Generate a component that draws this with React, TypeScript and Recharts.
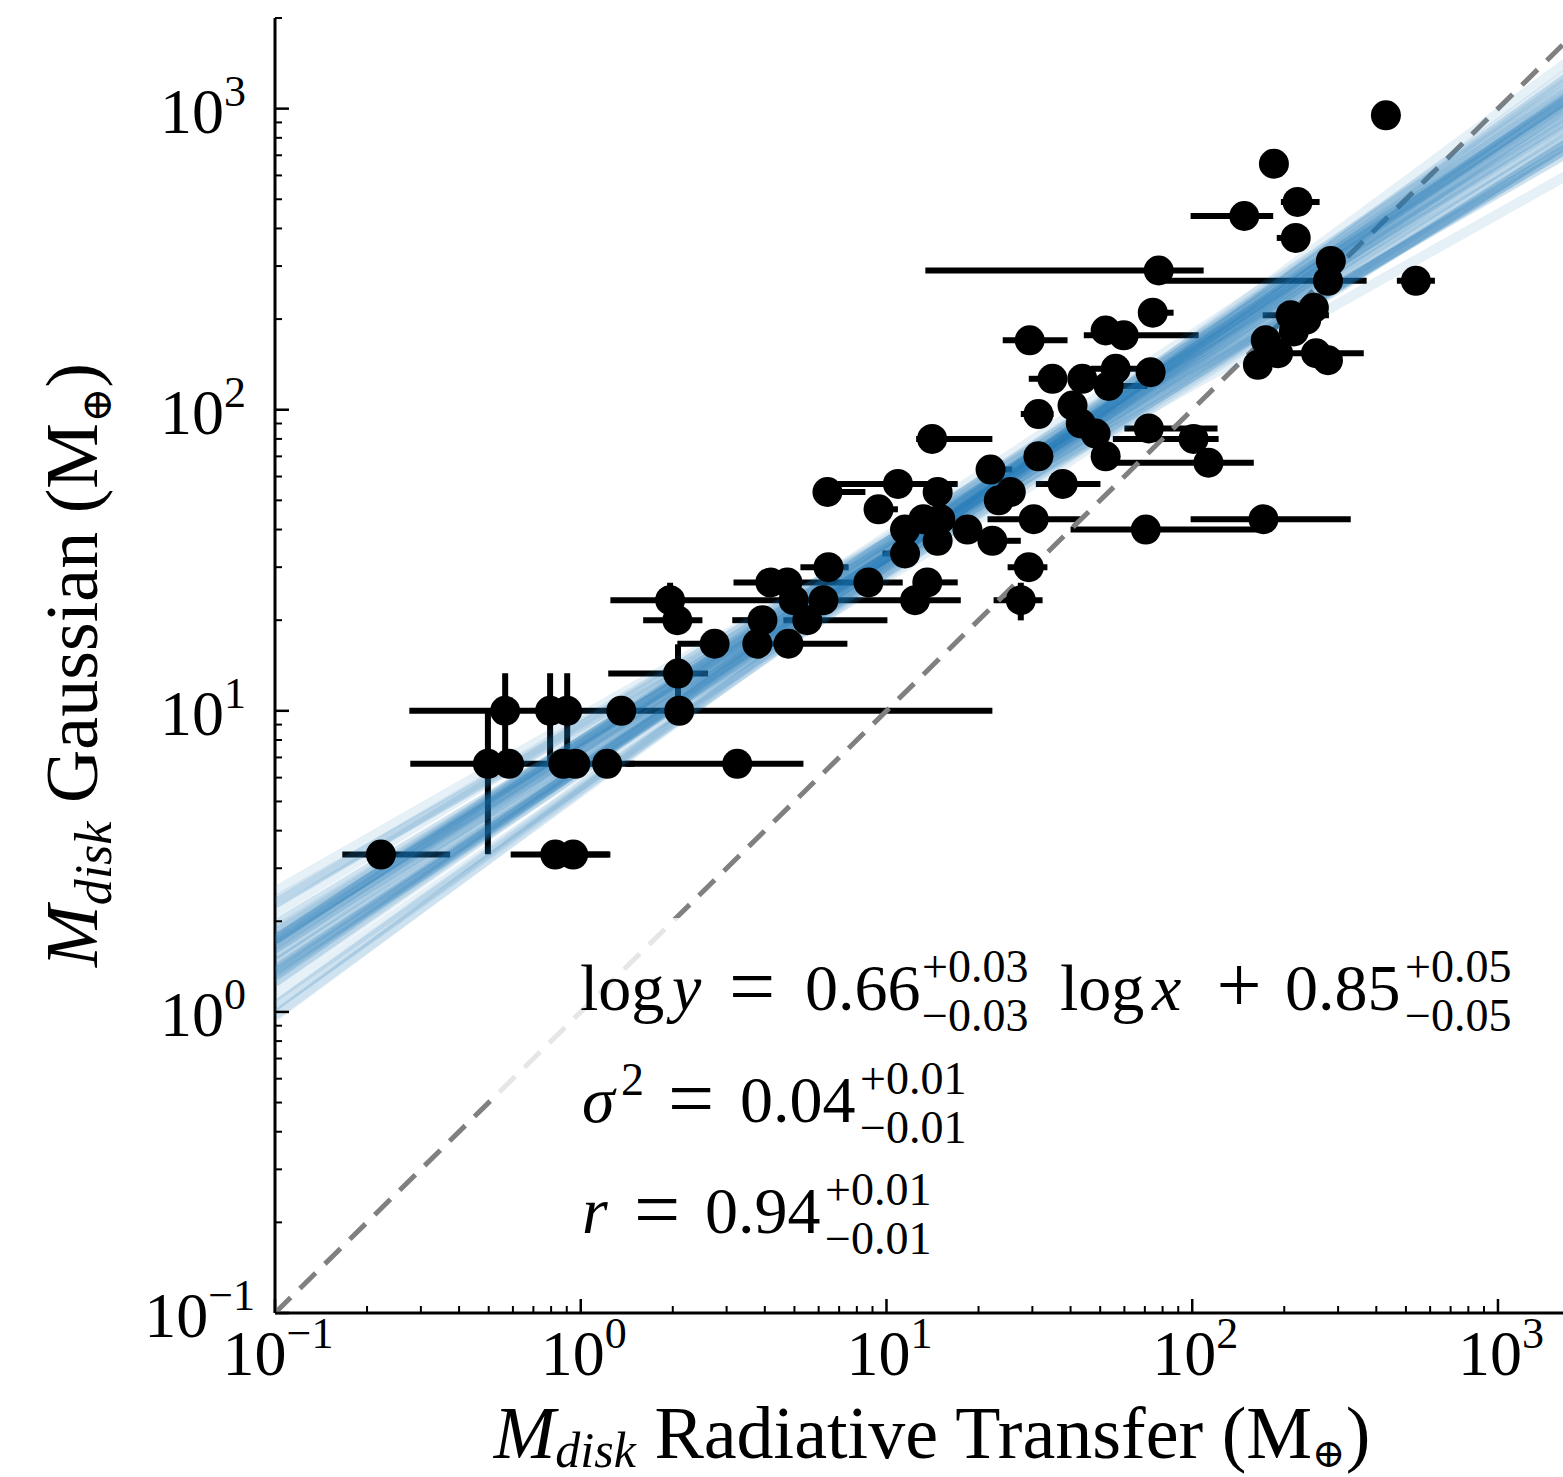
import React from 'react';
import { ScatterChart, Scatter, XAxis, YAxis, ErrorBar } from 'recharts';

const FONT = "'Liberation Serif', 'DejaVu Serif', serif";
const PLOT_LEFT = 275;
const PLOT_BOTTOM = 1313;

// disk masses, radiative transfer fit (x) vs gaussian fit (y), in Earth masses
const radiativeTransfer = [
  0.222, 0.825, 0.945, 0.497, 0.583, 0.877, 0.96, 1.22, 3.25, 0.566,
  0.794, 0.903, 1.357, 2.1, 2.08, 2.74, 3.78, 4.78, 2.07, 3.93,
  5.51, 1.96, 4.97, 6.22, 12.4, 27.5, 4.17, 4.74, 8.73, 13.6,
  6.46, 29.2, 11.5, 14.7, 22.2, 11.5, 18.4, 70.5, 13.2, 15.0,
  30.3, 171, 9.42, 23.3, 6.41, 14.7, 25.5, 10.9, 37.7, 21.9,
  113, 31.4, 52.1, 14.1, 101, 43.2, 72.1, 48.3, 31.4, 40.6,
  53.3, 43.7, 34.9, 56.2, 73.1, 52.1, 59.7, 29.4, 74.3, 77.7,
  430, 185, 221, 148, 218, 284, 278, 539, 210, 250,
  236, 215, 174, 191, 164, 254, 278,
];
const gaussian = [
  3.33, 3.33, 3.33, 6.67, 6.67, 6.67, 6.67, 6.67, 6.67, 10,
  10, 10, 10, 10, 13.3, 16.7, 16.7, 16.7, 20, 20,
  20, 23.3, 23.3, 23.3, 23.3, 23.3, 26.7, 26.7, 26.7, 26.7,
  30, 30, 33.3, 36.7, 36.7, 40, 40, 40, 43.3, 43.3,
  43.3, 43.3, 46.7, 50, 53.3, 53.3, 53.3, 56.7, 56.7, 63.3,
  66.7, 70, 70, 80, 80, 90, 86.7, 83.3, 96.7, 103.3,
  120, 126.7, 126.7, 136.7, 133.3, 183.3, 176.7, 170, 210, 290,
  950, 656, 490, 440, 372, 312, 268, 268, 206, 218,
  199, 182, 170, 154, 141, 154, 146,
];
// lower / upper end of the radiative transfer error bar
const rtLow = [
  0.166, 0.59, 0.75, 0.277, 0.583, 0.877, 0.96, 1.0, 1.4, 0.566,
  0.794, 0.903, 1.357, 0.275, 1.23, 2.07, 3.78, 4.0, 1.6, 3.13,
  4.6, 1.25, 4.97, 6.22, 12.4, 22.4, 3.16, 4.74, 8.73, 13.6,
  5.23, 24.9, 9.7, 14.7, 22.2, 11.5, 18.4, 40, 13.2, 15.0,
  21.4, 98.8, 9.42, 23.3, 6.41, 14.7, 25.5, 6.92, 30.8, 20.5,
  55.3, 31.4, 52.1, 12.5, 55, 43.2, 60, 48.3, 27.5, 40.6,
  53.3, 43.7, 29.2, 46.6, 73.1, 52.1, 44.2, 24.0, 74.3, 13.4,
  430, 185, 195, 98.8, 189, 284, 81.8, 467, 170, 250,
  236, 215, 174, 191, 164, 200, 278,
];
const rtHigh = [
  0.374, 1.25, 1.24, 0.85, 0.583, 0.877, 0.96, 1.5, 5.35, 0.566,
  0.794, 0.903, 1.357, 22.2, 2.61, 2.74, 3.78, 7.45, 2.5, 3.93,
  10.07, 17.5, 4.97, 6.22, 12.4, 32.4, 11.3, 4.74, 8.73, 17.1,
  7.52, 33.6, 11.5, 14.7, 27.5, 11.5, 18.4, 171, 13.2, 15.0,
  43.2, 330, 10.9, 23.3, 8.53, 14.7, 25.5, 17.1, 50.1, 25.8,
  159, 31.4, 52.1, 22.2, 122, 43.2, 121, 48.3, 35.2, 40.6,
  71.4, 43.7, 34.9, 66.4, 73.1, 52.1, 105, 39.1, 86.9, 109,
  430, 185, 261, 184, 218, 284, 372, 622, 280, 250,
  236, 215, 174, 191, 164, 364, 278,
];
// symmetric error on the gaussian mass
const gaussErr = [
  0, 0, 0, 3.33, 0, 0, 0, 0, 0, 3.33,
  3.33, 3.33, 0, 0, 3.33, 0, 0, 0, 0, 0,
  0, 3.33, 0, 0, 0, 3.33, 0, 0, 0, 0,
  0, 0, 0, 0, 0, 0, 0, 0, 0, 0,
  0, 0, 0, 0, 0, 0, 0, 0, 0, 0,
  0, 0, 0, 0, 0, 0, 0, 0, 0, 0,
  0, 0, 0, 0, 0, 0, 0, 0, 0, 0,
  0, 0, 0, 0, 0, 0, 0, 0, 0, 0,
  0, 0, 0, 0, 0, 0, 0,
];

// posterior draws of the linear fit in log space
const fitSlopes = [
  0.66, 0.65, 0.67, 0.64, 0.68, 0.66, 0.63, 0.69, 0.65, 0.67,
  0.62, 0.7, 0.66, 0.64, 0.68, 0.61, 0.71, 0.65, 0.67, 0.63,
  0.69, 0.6, 0.72, 0.66, 0.64, 0.68, 0.59, 0.73, 0.62, 0.7,
  0.66, 0.65, 0.67, 0.58, 0.74, 0.63, 0.69, 0.61, 0.71, 0.57, 0.75,
];
const fitIntercepts = [
  0.85, 0.89, 0.81, 0.9, 0.81, 0.9, 0.85, 0.82, 0.86, 0.86,
  0.87, 0.8, 0.89, 0.82, 0.84, 0.9, 0.8, 0.81, 0.89, 0.88,
  0.81, 0.96, 0.74, 0.87, 0.87, 0.82, 0.95, 0.75, 0.95, 0.75,
  0.9, 0.79, 0.91, 0.98, 0.73, 0.9, 0.81, 0.9, 0.81, 0.94, 0.735,
];

const decades = [0.1, 1, 10, 100, 1000];
const exponents = ['\u22121', '0', '1', '2', '3'];
const steps = [1, 2, 3, 4, 5, 6, 7, 8, 9];
const X_DOMAIN = [0.1, 2000];
const Y_DOMAIN = [0.1, 2000];

const logTicks = decades
  .flatMap((d) => steps.map((s) => +(d * s).toPrecision(6)))
  .filter((v) => v <= 2000);

const points = radiativeTransfer.map((x, i) => ({
  x,
  y: gaussian[i],
  ex: [x - rtLow[i], rtHigh[i] - x],
  ey: [gaussErr[i], gaussErr[i]],
}));

const fitLines = fitSlopes.map((m, i) =>
  X_DOMAIN.map((x) => ({ x, y: Math.pow(10, fitIntercepts[i] + m * Math.log10(x)) }))
);
const oneToOne = X_DOMAIN.map((x) => ({ x, y: x }));

const XTick = (props: any) => {
  const { x, payload } = props;
  const k = decades.indexOf(payload.value);
  const major = k >= 0;
  return (
    <g>
      <line x1={x} x2={x} y1={PLOT_BOTTOM} y2={PLOT_BOTTOM - (major ? 14 : 7)} stroke="#000" strokeWidth={major ? 2.5 : 2} />
      {major && (
        <text x={x + 3} y={1375} textAnchor="middle" fontFamily={FONT} fontSize={64} fill="#000">
          10<tspan dy={-27} fontSize={44}>{exponents[k]}</tspan>
        </text>
      )}
    </g>
  );
};

const YTick = (props: any) => {
  const { y, payload } = props;
  const k = decades.indexOf(payload.value);
  const major = k >= 0;
  return (
    <g>
      <line x1={PLOT_LEFT} x2={PLOT_LEFT + (major ? 14 : 7)} y1={y} y2={y} stroke="#000" strokeWidth={major ? 2.5 : 2} />
      {major && (
        <text x={k === 0 ? 255 : 246} y={y + 24} textAnchor="end" fontFamily={FONT} fontSize={64} fill="#000">
          10<tspan dy={-27} fontSize={44}>{exponents[k]}</tspan>
        </text>
      )}
    </g>
  );
};

const XLabel = () => (
  <text x={932} y={1458} textAnchor="middle" fontFamily={FONT} fontSize={74} fill="#000">
    <tspan fontStyle="italic">M</tspan>
    <tspan fontStyle="italic" fontSize={50} dy={9}>disk</tspan>
    <tspan dy={-9}> Radiative Transfer (M</tspan>
    <tspan fontSize={40} dy={9}>{'\u2295'}</tspan>
    <tspan dy={-9}>)</tspan>
  </text>
);

const YLabel = () => (
  <text x={97} y={665} transform="rotate(-90 97 665)" textAnchor="middle" fontFamily={FONT} fontSize={74} fill="#000">
    <tspan fontStyle="italic">M</tspan>
    <tspan fontStyle="italic" fontSize={52} dy={14}>disk</tspan>
    <tspan dy={-14}> Gaussian (M</tspan>
    <tspan fontSize={42} dy={14}>{'\u2295'}</tspan>
    <tspan dy={-14}>)</tspan>
  </text>
);

const noShape = () => <g />;
const dot = (p: any) => <circle cx={p.cx} cy={p.cy} r={15} fill="#000" />;

function Script({ x, base, up, down }: { x: number; base: number; up: string; down: string }) {
  return (
    <>
      <text x={x} y={base - 28} fontSize={46}>{up}</text>
      <text x={x} y={base + 21} fontSize={46}>{down}</text>
    </>
  );
}

function Equals({ cx, base }: { cx: number; base: number }) {
  return (
    <text x={cx} y={base + 4} fontSize={82} textAnchor="middle">=</text>
  );
}

function FitNote() {
  return (
    <svg width={1563} height={1477} style={{ position: 'absolute', left: 0, top: 0, pointerEvents: 'none' }}>
      <rect x={495} y={918} width={1050} height={352} fill="#fff" fillOpacity={0.8} />
      <g fontFamily={FONT} fontSize={66} fill="#000">
        <text x={580} y={1010}>log</text>
        <text x={672} y={1010} fontStyle="italic">y</text>
        <Equals cx={752} base={1010} />
        <text x={805} y={1010}>0.66</text>
        <Script x={922} base={1010} up="+0.03" down={'\u22120.03'} />
        <text x={1060} y={1010}>log</text>
        <text x={1152} y={1010} fontStyle="italic">x</text>
        <text x={1239} y={1012} fontSize={80} textAnchor="middle">+</text>
        <text x={1285} y={1010}>0.85</text>
        <Script x={1405} base={1010} up="+0.05" down={'\u22120.05'} />

        <text x={582} y={1122} fontStyle="italic">{'\u03c3'}</text>
        <text x={621} y={1095} fontSize={46}>2</text>
        <Equals cx={691} base={1122} />
        <text x={740} y={1122}>0.04</text>
        <Script x={860} base={1122} up="+0.01" down={'\u22120.01'} />

        <text x={582} y={1233} fontStyle="italic">r</text>
        <Equals cx={657} base={1233} />
        <text x={705} y={1233}>0.94</text>
        <Script x={825} base={1233} up="+0.01" down={'\u22120.01'} />
      </g>
    </svg>
  );
}

export default function App() {
  return (
    <div style={{ position: 'absolute', left: 0, top: 0, width: 1563, height: 1477, overflow: 'hidden', background: '#fff' }}>
      <ScatterChart width={1590} height={1477} margin={{ top: 18, right: 0, bottom: 0, left: 0 }}>
        <XAxis
          type="number"
          dataKey="x"
          scale="log"
          domain={X_DOMAIN}
          allowDataOverflow
          ticks={logTicks}
          interval={0}
          tick={XTick}
          tickLine={false}
          axisLine={{ stroke: '#000', strokeWidth: 3 }}
          height={164}
          label={{ content: XLabel }}
        />
        <YAxis
          type="number"
          dataKey="y"
          scale="log"
          domain={Y_DOMAIN}
          allowDataOverflow
          ticks={logTicks}
          interval={0}
          tick={YTick}
          tickLine={false}
          axisLine={{ stroke: '#000', strokeWidth: 3 }}
          width={275}
          label={{ content: YLabel }}
        />
        <XAxis xAxisId="top" orientation="top" type="number" scale="log" domain={X_DOMAIN} height={0} tick={false} tickLine={false} axisLine={{ stroke: '#000', strokeWidth: 3 }} />
        <Scatter
          data={oneToOne}
          shape={noShape}
          line={{ stroke: '#808080', strokeWidth: 5, strokeDasharray: '22 13' }}
          isAnimationActive={false}
        />
        <Scatter data={points} shape={noShape} isAnimationActive={false}>
          <ErrorBar dataKey="ex" direction="x" width={0} stroke="#000" strokeWidth={6} isAnimationActive={false} />
          <ErrorBar dataKey="ey" direction="y" width={0} stroke="#000" strokeWidth={6} isAnimationActive={false} />
        </Scatter>
        {fitLines.map((pts, i) => (
          <Scatter
            key={i}
            data={pts}
            shape={noShape}
            line={{ stroke: '#1f77b4', strokeWidth: 10, strokeOpacity: 0.11 }}
            isAnimationActive={false}
          />
        ))}
        <Scatter data={points} shape={dot} isAnimationActive={false} />
      </ScatterChart>
      <FitNote />
    </div>
  );
}
